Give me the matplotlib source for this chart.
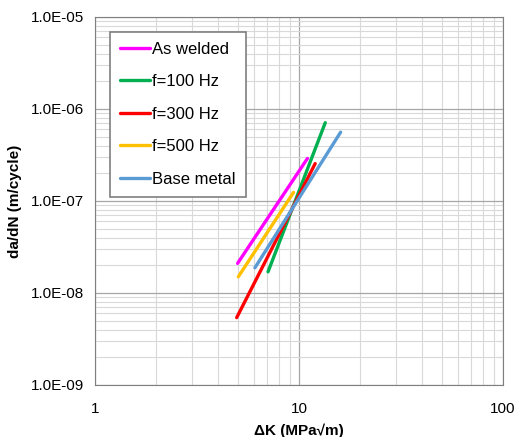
import numpy as np
import matplotlib.pyplot as plt
from matplotlib.ticker import LogLocator, FuncFormatter

plt.rcParams['font.family'] = ['Liberation Sans', 'DejaVu Sans']

# series: (dK start, dK end), (da/dN start, da/dN end)
labels = ['As welded', 'f=100 Hz', 'f=300 Hz', 'f=500 Hz', 'Base metal']
dk = [[5.0, 11.0], [7.05, 13.45], [4.95, 12.0], [5.04, 9.4], [6.08, 16.0]]
dadn = [[2.1e-8, 2.9e-7], [1.7e-8, 7.1e-7], [5.4e-9, 2.55e-7], [1.5e-8, 1.24e-7], [1.88e-8, 5.6e-7]]
colors = ['#ff00ff', '#00b050', '#ff0000', '#ffc000', '#5b9bd5']

fig = plt.figure(figsize=(5.16, 4.37), dpi=100)
ax = fig.add_axes([95/516, 52/437, 408/516, 368/437])

for lab, x, y, c in zip(labels, dk, dadn, colors):
    ax.plot(x, y, color=c, linewidth=2.4, label=lab, solid_capstyle='round')

ax.set_xscale('log')
ax.set_yscale('log')
ax.set_xlim(1, 100)
ax.set_ylim(1e-9, 1e-5)

ax.xaxis.set_major_locator(LogLocator(base=10))
ax.yaxis.set_major_locator(LogLocator(base=10))
ax.xaxis.set_minor_locator(LogLocator(base=10, subs=np.arange(2, 10)))
ax.yaxis.set_minor_locator(LogLocator(base=10, subs=np.arange(2, 10)))
ax.xaxis.set_major_formatter(FuncFormatter(lambda v, p: '%g' % v))
ax.yaxis.set_major_formatter(FuncFormatter(lambda v, p: '%.1E' % v))
ax.xaxis.set_minor_formatter(FuncFormatter(lambda v, p: ''))
ax.yaxis.set_minor_formatter(FuncFormatter(lambda v, p: ''))

ax.grid(which='major', color='#a6a6a6', linewidth=0.9)
ax.grid(which='minor', color='#d9d9d9', linewidth=0.8)
ax.set_axisbelow(True)
ax.tick_params(which='both', length=0, labelsize=11)
ax.tick_params(axis='x', pad=12)
ax.tick_params(axis='y', pad=8)
for s in ax.spines.values():
    s.set_color('#7f7f7f')

ax.set_xlabel('ΔK (MPa√m)', fontsize=11, fontweight='bold', labelpad=6)
ax.set_ylabel('da/dN (m/cycle)', fontsize=11, fontweight='bold', labelpad=6)

leg = ax.legend(loc='upper left', bbox_to_anchor=(0.036, 0.96), fontsize=12,
                fancybox=False, framealpha=1, edgecolor='#7f7f7f',
                handlelength=1.8, handletextpad=0.15, labelspacing=1.05,
                borderpad=0.6, borderaxespad=0)
leg.get_frame().set_linewidth(1.2)

plt.savefig('out.png', dpi=100)
